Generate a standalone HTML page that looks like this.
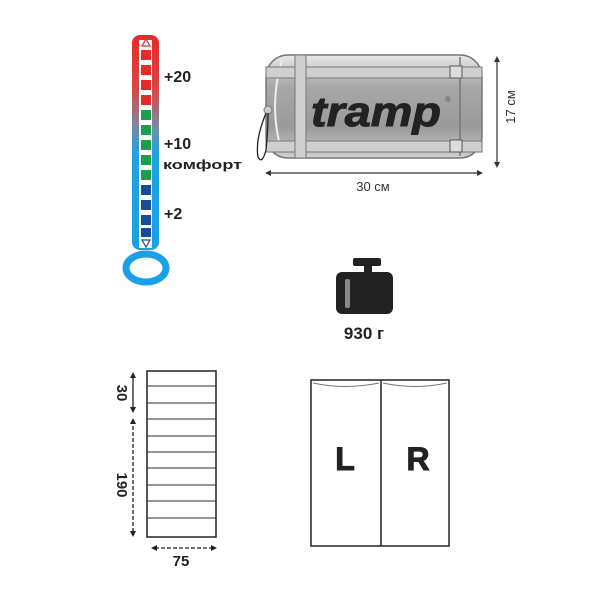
<!DOCTYPE html>
<html><head><meta charset="utf-8"><style>
html,body{margin:0;padding:0;background:#fff}
svg{display:block}
text{font-family:"Liberation Sans",sans-serif}
</style></head><body>
<svg width="600" height="600" viewBox="0 0 600 600" xmlns="http://www.w3.org/2000/svg">
<defs>
<linearGradient id="tg" x1="0" y1="0" x2="0" y2="1">
<stop offset="0" stop-color="#e52a2a"/><stop offset="0.25" stop-color="#d94646"/><stop offset="0.42" stop-color="#7a8aa0"/><stop offset="0.55" stop-color="#1fa3e0"/><stop offset="1" stop-color="#1aa0e6"/>
</linearGradient>
<linearGradient id="bg" x1="0" y1="0" x2="0" y2="1">
<stop offset="0" stop-color="#e8e8e8"/><stop offset="0.3" stop-color="#a8a8a8"/><stop offset="0.7" stop-color="#9a9a9a"/><stop offset="1" stop-color="#d0d0d0"/>
</linearGradient>
</defs>
<rect x="132" y="35" width="27" height="215" rx="8" fill="url(#tg)"/>
<rect x="139" y="40" width="13" height="208" fill="#fff"/>
<ellipse cx="146" cy="268" rx="20" ry="14" fill="none" stroke="#1aa0e6" stroke-width="7"/>
<polygon points="146,39 142,46 150,46" fill="none" stroke="#e52a2a" stroke-width="1.2"/>
<polygon points="146,247 142,240 150,240" fill="none" stroke="#1a4a9a" stroke-width="1.2"/>
<g>
<rect x="141" y="50" width="10" height="10" fill="#e52a2a"/>
<rect x="141" y="65" width="10" height="10" fill="#e52a2a"/>
<rect x="141" y="80" width="10" height="10" fill="#e52a2a"/>
<rect x="141" y="95" width="10" height="10" fill="#e52a2a"/>
<rect x="141" y="110" width="10" height="10" fill="#1aa04a"/>
<rect x="141" y="125" width="10" height="10" fill="#1aa04a"/>
<rect x="141" y="140" width="10" height="10" fill="#1aa04a"/>
<rect x="141" y="155" width="10" height="10" fill="#1aa04a"/>
<rect x="141" y="170" width="10" height="10" fill="#1aa04a"/>
<rect x="141" y="185" width="10" height="10" fill="#1a4a9a"/>
<rect x="141" y="200" width="10" height="10" fill="#1a4a9a"/>
<rect x="141" y="215" width="10" height="10" fill="#1a4a9a"/>
<rect x="141" y="228" width="10" height="9" fill="#1a4a9a"/>
</g>
<g font-weight="bold" fill="#222">
<text x="164" y="82" font-size="16">+20</text>
<text x="164" y="149" font-size="16">+10</text>
<text x="163" y="169" font-size="13" textLength="79" lengthAdjust="spacingAndGlyphs">комфорт</text>
<text x="164" y="219" font-size="16">+2</text>
</g>
<rect x="266" y="55" width="216" height="103" rx="22" fill="url(#bg)" stroke="#777" stroke-width="1.5"/>
<path d="M282 60 Q268 107 282 152" fill="none" stroke="#eee" stroke-width="2"/>
<rect x="266" y="67" width="216" height="11" fill="#cfcfcf" stroke="#777"/>
<rect x="266" y="141" width="216" height="11" fill="#cfcfcf" stroke="#777"/>
<rect x="295" y="55" width="11" height="103" fill="#cfcfcf" stroke="#777"/>
<line x1="460" y1="57" x2="460" y2="156" stroke="#777" stroke-width="1.5"/>
<rect x="450" y="66" width="12" height="12" fill="#ddd" stroke="#555"/>
<rect x="450" y="140" width="12" height="12" fill="#ddd" stroke="#555"/>
<circle cx="268" cy="110" r="4" fill="#ccc" stroke="#777"/>
<path d="M266 113 Q255 140 258 157 Q262 165 266 150 Q268 130 268 113" fill="none" stroke="#222" stroke-width="1.3"/>
<text x="311" y="126" font-size="42" font-weight="bold" font-style="italic" fill="#222" textLength="130" lengthAdjust="spacingAndGlyphs" stroke="#222" stroke-width="1">tramp</text>
<text x="445" y="102" font-size="8" fill="#555">®</text>
<line x1="267" y1="173" x2="481" y2="173" stroke="#333" stroke-width="1.2"/>
<polygon points="265,173 271,170 271,176" fill="#333"/><polygon points="483,173 477,170 477,176" fill="#333"/>
<text x="373" y="191" font-size="13" text-anchor="middle" fill="#333">30 см</text>
<line x1="497" y1="58" x2="497" y2="166" stroke="#333" stroke-width="1.2"/>
<polygon points="497,56 494,62 500,62" fill="#333"/><polygon points="497,168 494,162 500,162" fill="#333"/>
<text transform="translate(515,107) rotate(-90)" font-size="13" text-anchor="middle" fill="#333">17 см</text>
<rect x="353" y="258" width="28" height="8" rx="2" fill="#222"/>
<rect x="364" y="264" width="8" height="10" fill="#222"/>
<rect x="336" y="272" width="57" height="42" rx="6" fill="#222"/>
<rect x="345" y="279" width="5" height="29" rx="2" fill="#888"/>
<text x="364" y="339" font-size="17" font-weight="bold" text-anchor="middle" fill="#222">930 г</text>
<rect x="147" y="371" width="69" height="166" fill="#fff" stroke="#222" stroke-width="1.5"/>
<g stroke="#333" stroke-width="1">
<line x1="147" y1="386" x2="216" y2="386"/><line x1="147" y1="403" x2="216" y2="403"/>
<line x1="147" y1="419" x2="216" y2="419"/><line x1="147" y1="436" x2="216" y2="436"/>
<line x1="147" y1="452" x2="216" y2="452"/><line x1="147" y1="468" x2="216" y2="468"/>
<line x1="147" y1="485" x2="216" y2="485"/><line x1="147" y1="501" x2="216" y2="501"/>
<line x1="147" y1="518" x2="216" y2="518"/>
</g>
<g stroke="#222" stroke-width="1.3">
<line x1="133" y1="374" x2="133" y2="411"/>
<line x1="133" y1="420" x2="133" y2="534" stroke-dasharray="4,2"/>
<line x1="155" y1="548" x2="214" y2="548" stroke-dasharray="4,2"/>
</g>
<g fill="#222">
<polygon points="133,372 130,378 136,378"/><polygon points="133,413 130,407 136,407"/>
<polygon points="133,418 130,424 136,424"/><polygon points="133,537 130,531 136,531"/>
<polygon points="151,548 157,545 157,551"/><polygon points="217,548 211,545 211,551"/>
</g>
<text transform="translate(117,393) rotate(90)" font-size="15" font-weight="bold" text-anchor="middle" fill="#222">30</text>
<text transform="translate(117,485) rotate(90)" font-size="15" font-weight="bold" text-anchor="middle" fill="#222">190</text>
<text x="181" y="566" font-size="15" font-weight="bold" text-anchor="middle" fill="#222">75</text>
<rect x="311" y="380" width="138" height="166" fill="#fff" stroke="#222" stroke-width="1.5"/>
<line x1="381" y1="380" x2="381" y2="546" stroke="#222" stroke-width="1.5"/>
<path d="M313 383 Q345 390 379 383 M383 383 Q415 390 447 383" fill="none" stroke="#777"/>
<text x="345" y="470" font-size="32" font-weight="bold" text-anchor="middle" fill="#222" stroke="#222" stroke-width="1">L</text>
<text x="418" y="470" font-size="32" font-weight="bold" text-anchor="middle" fill="#222" stroke="#222" stroke-width="1">R</text>
</svg>
</body></html>
